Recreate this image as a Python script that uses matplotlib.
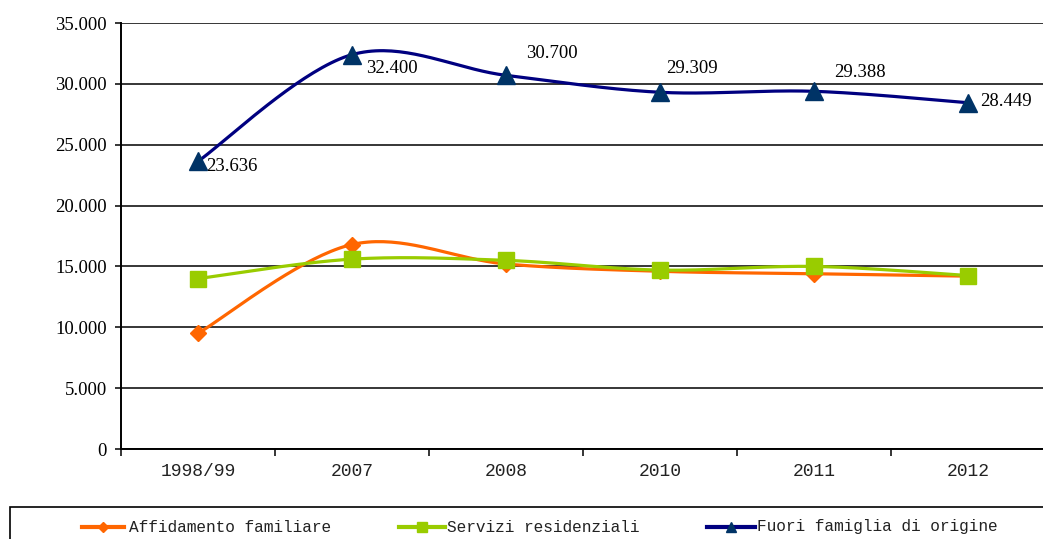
import numpy as np
import matplotlib
matplotlib.use("Agg")
import matplotlib.pyplot as plt
from matplotlib.patches import Rectangle
from matplotlib.lines import Line2D

categories = ["1998/99", "2007", "2008", "2010", "2011", "2012"]
affidamento = [9500, 16800, 15200, 14600, 14400, 14200]
servizi = [14000, 15600, 15500, 14700, 15000, 14250]
fuori = [23636, 32400, 30700, 29309, 29388, 28449]
fuori_labels = ["23.636", "32.400", "30.700", "29.309", "29.388", "28.449"]
yticks = [0, 5000, 10000, 15000, 20000, 25000, 30000, 35000]
ytick_labels = ["0", "5.000", "10.000", "15.000", "20.000", "25.000", "30.000", "35.000"]
series_names = ["Affidamento familiare", "Servizi residenziali", "Fuori famiglia di origine"]

label_offsets = [(8, -5), (14, -14), (20, 22), (6, 24), (20, 19), (12, 1)]
legend_x = [(82, 124, 129), (399, 445, 447), (707, 755, 757)]

def smooth(xs, ys, n=40):
    xs = np.asarray(xs, float); ys = np.asarray(ys, float)
    P = np.column_stack([xs, ys])
    out = []
    m = len(P)
    for i in range(m - 1):
        p0 = P[i - 1] if i > 0 else P[i]
        p1 = P[i]; p2 = P[i + 1]
        p3 = P[i + 2] if i + 2 < m else P[i + 1]
        c1 = p1 + (p2 - p0) / 6.0
        c2 = p2 - (p3 - p1) / 6.0
        t = np.linspace(0, 1, n)[:, None]
        seg = ((1 - t) ** 3) * p1 + 3 * ((1 - t) ** 2) * t * c1 + 3 * (1 - t) * t ** 2 * c2 + t ** 3 * p2
        out.append(seg if i == 0 else seg[1:])
    S = np.vstack(out)
    return S[:, 0], S[:, 1]

W, H = 1043, 539
fig = plt.figure(figsize=(W / 100, H / 100), dpi=100)
ax = fig.add_axes([121 / W, (539 - 449) / H, 924 / W, (449 - 23) / H])

x = np.arange(len(categories))
orange = "#FF6600"
green = "#99CC00"
navy = "#000080"
navy_m = "#003366"

styles = [
    (orange, "D", 8, orange, 5),
    (green, "s", 11, green, 7),
    (navy, "^", 13, navy_m, 7),
]
for vals, (col, mk, ms, mcol, _) in zip([affidamento, servizi, fuori], styles):
    sx, sy = smooth(x, vals)
    ax.plot(sx, sy, color=col, lw=2.3, zorder=3, solid_capstyle="round")
    ax.plot(x, vals, linestyle="none", marker=mk, ms=ms, color=mcol, mec=mcol, zorder=4)

for xi, v, lab, off in zip(x, fuori, fuori_labels, label_offsets):
    ax.annotate(lab, (xi, v), xytext=off, textcoords="offset pixels",
                ha="left", va="center", fontsize=13.5, family="Liberation Serif", zorder=5)

ax.set_xlim(-0.5, len(categories) - 0.5)
ax.set_ylim(0, 35000)
ax.set_yticks(yticks)
ax.set_yticklabels(ytick_labels, family="Liberation Serif", fontsize=13.5)
ax.yaxis.grid(True, color="black", lw=1.1)
ax.set_axisbelow(True)

ax.set_xticks(np.arange(-0.5, len(categories), 1.0))
ax.set_xticklabels([])
ax.set_xticks(x, minor=True)
ax.set_xticklabels(categories, minor=True, family="Liberation Mono", fontsize=13, color="#222222")
ax.tick_params(axis="x", which="major", length=5, width=1.1, direction="out")
ax.tick_params(axis="x", which="minor", length=0, pad=10)
ax.tick_params(axis="y", length=4, width=1.1, pad=6)

for s in ["top", "right"]:
    ax.spines[s].set_visible(False)
for s in ["left", "bottom"]:
    ax.spines[s].set_linewidth(1.4)
    ax.spines[s].set_color("black")

# legend box
fig.patches.append(Rectangle((10 / W, -0.05), 1.0, (539 - 507) / H + 0.05,
                             transform=fig.transFigure, fill=False, ec="black", lw=1.2))
ly = (539 - 527) / H
for name, (col, mk, ms, mcol, lms), (x0, x1, xt) in zip(series_names, styles, legend_x):
    fig.add_artist(Line2D([x0 / W, x1 / W], [ly, ly], transform=fig.transFigure,
                          color=col, lw=3))
    fig.add_artist(Line2D([(x0 + x1) / 2 / W], [ly], transform=fig.transFigure,
                          linestyle="none", marker=mk, ms=lms, color=mcol, mec=mcol))
    fig.text(xt / W, ly, name, ha="left", va="center", family="Liberation Mono",
             fontsize=11.6, color="#222222")

fig.savefig("out.png", dpi=100)
